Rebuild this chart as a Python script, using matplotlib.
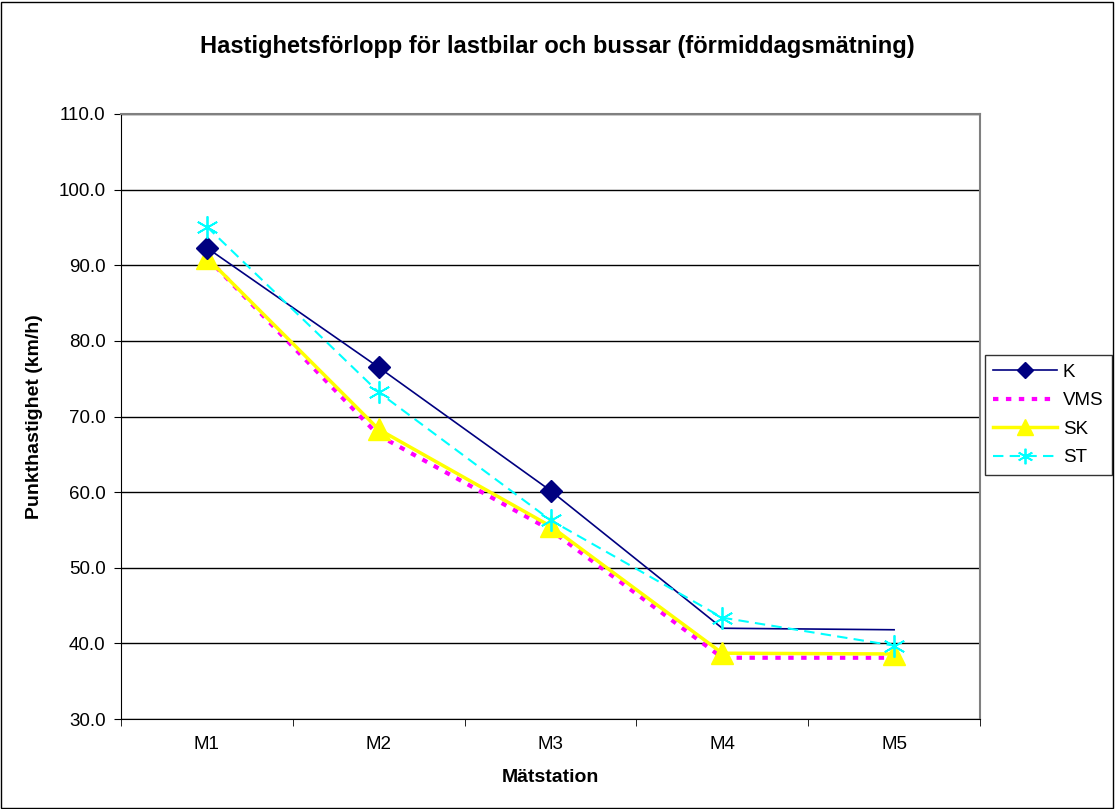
import matplotlib
matplotlib.use('Agg')
import matplotlib.pyplot as plt
import numpy as np

plt.rcParams['font.family'] = ['Liberation Sans', 'DejaVu Sans']

stations = ['M1', 'M2', 'M3', 'M4', 'M5']
k_vals = [92.3, 76.5, 60.2, 42.0, 41.8]
vms_vals = [91.0, 67.5, 55.0, 38.1, 38.1]
sk_vals = [91.0, 68.3, 55.5, 38.7, 38.6]
st_vals = [95.1, 73.2, 56.3, 43.4, 39.7]

fig = plt.figure(figsize=(11.15, 8.09), dpi=100)
ax = fig.add_axes([121/1115, 1-719/809, 859/1115, 605/809])

x = np.arange(len(stations))
# K has no markers at M4/M5 in the original
ax.plot(x, k_vals, color='#000080', lw=1.2, marker='D', ms=11, markevery=[0, 1, 2],
        label='K', zorder=4)
ax.plot(x, vms_vals, color='#ff00ff', lw=3, ls=(0, (1.3, 1.8)), label='VMS', zorder=3)
ax.plot(x, sk_vals, color='#ffff00', lw=2.5, marker='^', ms=16, label='SK', zorder=3)
ax.plot(x, st_vals, color='#00ffff', lw=1.5, ls=(0, (5, 3)), marker=(6, 2, 0), ms=16,
        mew=1.3, label='ST', zorder=5)

ax.set_xlim(-0.5, 4.5)
ax.set_ylim(30, 110)
ax.set_yticks(np.arange(30, 111, 10))
ax.set_yticklabels([f'{v:.1f}' for v in np.arange(30, 111, 10)], fontsize=13.5)
ax.set_xticks(x)
ax.set_xticklabels(stations, fontsize=13.5)
ax.set_xticks(np.arange(-0.5, 4.6, 1), minor=True)
ax.tick_params(axis='x', which='major', length=0, pad=12)
ax.tick_params(axis='x', which='minor', length=5, direction='out')
ax.tick_params(axis='y', length=5, direction='out', pad=6)
ax.yaxis.grid(True, color='black', lw=1)
ax.set_axisbelow(True)
for side in ['top', 'right']:
    ax.spines[side].set_color('#808080')
    ax.spines[side].set_linewidth(1.5)
for side in ['left', 'bottom']:
    ax.spines[side].set_color('black')

ax.set_xlabel('Mätstation', fontsize=14, fontweight='bold', labelpad=12)
ax.set_ylabel('Punkthastighet (km/h)', fontsize=14, fontweight='bold', labelpad=11)
fig.text(0.5, 1-47/809, 'Hastighetsförlopp för lastbilar och bussar (förmiddagsmätning)',
         ha='center', va='center', fontsize=17, fontweight='bold')

leg = ax.legend(loc='center left', bbox_to_anchor=(985/1115, 1-415/809),
                bbox_transform=fig.transFigure, fontsize=13.5, frameon=True,
                fancybox=False, edgecolor='black', borderpad=0.45, handlelength=3.4,
                labelspacing=0.6, handletextpad=0.3, borderaxespad=0, markerscale=0.7)
leg.get_frame().set_linewidth(1)

fig.patches.append(plt.Rectangle((0.001, 0.001), 0.997, 0.997, transform=fig.transFigure,
                                 fill=False, edgecolor='black', lw=1))
fig.savefig('out.png', dpi=100)
